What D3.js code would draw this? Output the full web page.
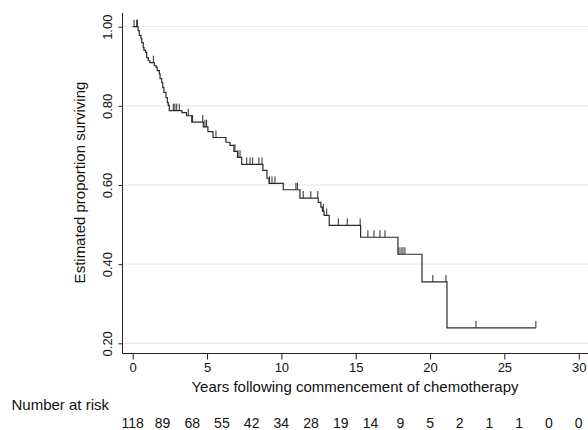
<!DOCTYPE html>
<html>
<head>
<meta charset="utf-8">
<script src="https://cdn.jsdelivr.net/npm/d3@7"></script>
<style>
  html, body { margin: 0; padding: 0; background: #fff; }
  svg { display: block; font-family: "Liberation Sans", Arial, Helvetica, sans-serif; }
</style>
</head>
<body>
<svg id="chart" width="588" height="430"></svg>
<script>
// Kaplan-Meier steps (years, survival after the drop)
var eventTimes = [0.36, 0.44, 0.56, 0.61, 0.71, 0.76, 0.87, 0.94, 1.05, 1.16,
  1.45, 1.57, 1.65, 1.79, 1.84, 1.95, 2.02, 2.10, 2.24, 2.33, 2.39, 2.46,
  3.32, 3.62, 3.97, 4.75, 5.06, 5.40, 6.27, 6.54, 6.81, 7.05, 7.33,
  8.76, 9.03, 9.17, 10.13, 11.25, 12.48, 12.66, 12.76, 12.87, 13.22,
  15.33, 17.84, 19.46, 21.14];
var survival = [0.990, 0.978, 0.970, 0.960, 0.947, 0.940, 0.935, 0.922, 0.914, 0.909,
  0.902, 0.897, 0.889, 0.881, 0.869, 0.859, 0.846, 0.834, 0.821, 0.808, 0.801, 0.788,
  0.783, 0.775, 0.759, 0.747, 0.735, 0.720, 0.708, 0.700, 0.685, 0.670, 0.652,
  0.637, 0.617, 0.604, 0.588, 0.567, 0.556, 0.544, 0.534, 0.523, 0.498,
  0.468, 0.425, 0.355, 0.239];
var lastTime = 27.12;

// censored observations (tick marks)
var censorTimes = [0.09, 0.27, 0.31, 1.39, 2.73, 2.84, 2.96, 3.13, 3.74, 4.03,
  4.71, 4.86, 4.97, 5.60, 6.88, 7.08, 7.22, 7.67, 7.89, 8.07, 8.49, 8.70,
  9.20, 9.37, 9.57, 10.98, 11.08, 11.47, 11.98, 12.45, 12.82, 13.05, 13.83,
  14.43, 15.30, 15.82, 16.23, 16.63, 16.97, 17.91, 18.05, 18.18, 18.31,
  20.19, 21.07, 23.09, 27.12];

var xTicks = [0, 5, 10, 15, 20, 25, 30];
var yTicks = [0.2, 0.4, 0.6, 0.8, 1.0];
var riskTimes = [0, 2, 4, 6, 8, 10, 12, 14, 16, 18, 20, 22, 24, 26, 28, 30];
var atRisk = [118, 89, 68, 55, 42, 34, 28, 19, 14, 9, 5, 2, 1, 1, 0, 0];

var svg = d3.select("#chart");

var x = d3.scaleLinear().domain([0, 30]).range([132.7, 578.7]);
var y = d3.scaleLinear().domain([0.2, 1]).range([343.3, 26.7]);

var axisLeft = 122.5, axisBottom = 353.5, plotTop = 13, plotRight = 588;

// gridlines
svg.append("g").selectAll("line")
  .data(yTicks)
  .enter().append("line")
  .attr("x1", axisLeft).attr("x2", plotRight)
  .attr("y1", function(d) { return y(d); })
  .attr("y2", function(d) { return y(d); })
  .attr("stroke", "#e6e6e6")
  .attr("stroke-width", 1);

// survival curve
function survAt(t) {
  var s = 1;
  for (var i = 0; i < eventTimes.length; i++) {
    if (eventTimes[i] <= t) s = survival[i];
  }
  return s;
}

var pts = [[0, 1]];
eventTimes.forEach(function(t, i) { pts.push([t, survival[i]]); });
pts.push([lastTime, survival[survival.length - 1]]);

var line = d3.line()
  .x(function(d) { return x(d[0]); })
  .y(function(d) { return y(d[1]); })
  .curve(d3.curveStepAfter);

svg.append("path")
  .datum(pts)
  .attr("d", line)
  .attr("fill", "none")
  .attr("stroke", "#2b2b2b")
  .attr("stroke-width", 1.2);

svg.append("g").selectAll("line")
  .data(censorTimes)
  .enter().append("line")
  .attr("x1", function(d) { return x(d); })
  .attr("x2", function(d) { return x(d); })
  .attr("y1", function(d) { return y(survAt(d)); })
  .attr("y2", function(d) { return y(survAt(d)) - 7; })
  .attr("stroke", "#2b2b2b")
  .attr("stroke-width", 1);

// axes
var xAxis = d3.axisBottom(x).tickValues(xTicks).tickSize(6).tickPadding(3)
  .tickFormat(d3.format("d"));
var gx = svg.append("g")
  .attr("transform", "translate(0," + axisBottom + ")")
  .call(xAxis);
gx.select(".domain").remove();
gx.selectAll("line").attr("stroke", "#222");
gx.selectAll("text").attr("font-size", 13).attr("fill", "#111")
  .attr("font-family", "Liberation Sans, Arial, sans-serif");

var yAxis = d3.axisLeft(y).tickValues(yTicks).tickSize(4)
  .tickFormat(d3.format(".2f"));
var gy = svg.append("g")
  .attr("transform", "translate(" + axisLeft + ",0)")
  .call(yAxis);
gy.select(".domain").remove();
gy.selectAll("line").attr("stroke", "#222");
// tick groups are already translated to y(d); only rotate the labels
gy.selectAll("text")
  .attr("font-size", 13).attr("fill", "#111")
  .attr("font-family", "Liberation Sans, Arial, sans-serif")
  .attr("x", null).attr("y", null).attr("dy", null)
  .attr("text-anchor", "middle")
  .attr("transform", "translate(-11,0) rotate(-90)");

svg.append("line")
  .attr("x1", axisLeft).attr("x2", axisLeft)
  .attr("y1", plotTop).attr("y2", axisBottom)
  .attr("stroke", "#222").attr("stroke-width", 1);
svg.append("line")
  .attr("x1", axisLeft).attr("x2", plotRight)
  .attr("y1", axisBottom).attr("y2", axisBottom)
  .attr("stroke", "#222").attr("stroke-width", 1);

// titles
svg.append("text")
  .attr("transform", "translate(84.5,182.5) rotate(-90)")
  .attr("text-anchor", "middle")
  .attr("font-size", 15)
  .attr("fill", "#111")
  .text("Estimated proportion surviving");

svg.append("text")
  .attr("x", 355).attr("y", 391.5)
  .attr("text-anchor", "middle")
  .attr("font-size", 15)
  .attr("fill", "#111")
  .text("Years following commencement of chemotherapy");

svg.append("text")
  .attr("x", 11.5).attr("y", 410)
  .attr("font-size", 15)
  .attr("fill", "#111")
  .text("Number at risk");

svg.append("g").selectAll("text")
  .data(riskTimes)
  .enter().append("text")
  .attr("x", function(d) { return x(d); })
  .attr("y", 427.5)
  .attr("text-anchor", "middle")
  .attr("font-size", 14)
  .attr("fill", "#111")
  .text(function(d, i) { return atRisk[i]; });
</script>
</body>
</html>
